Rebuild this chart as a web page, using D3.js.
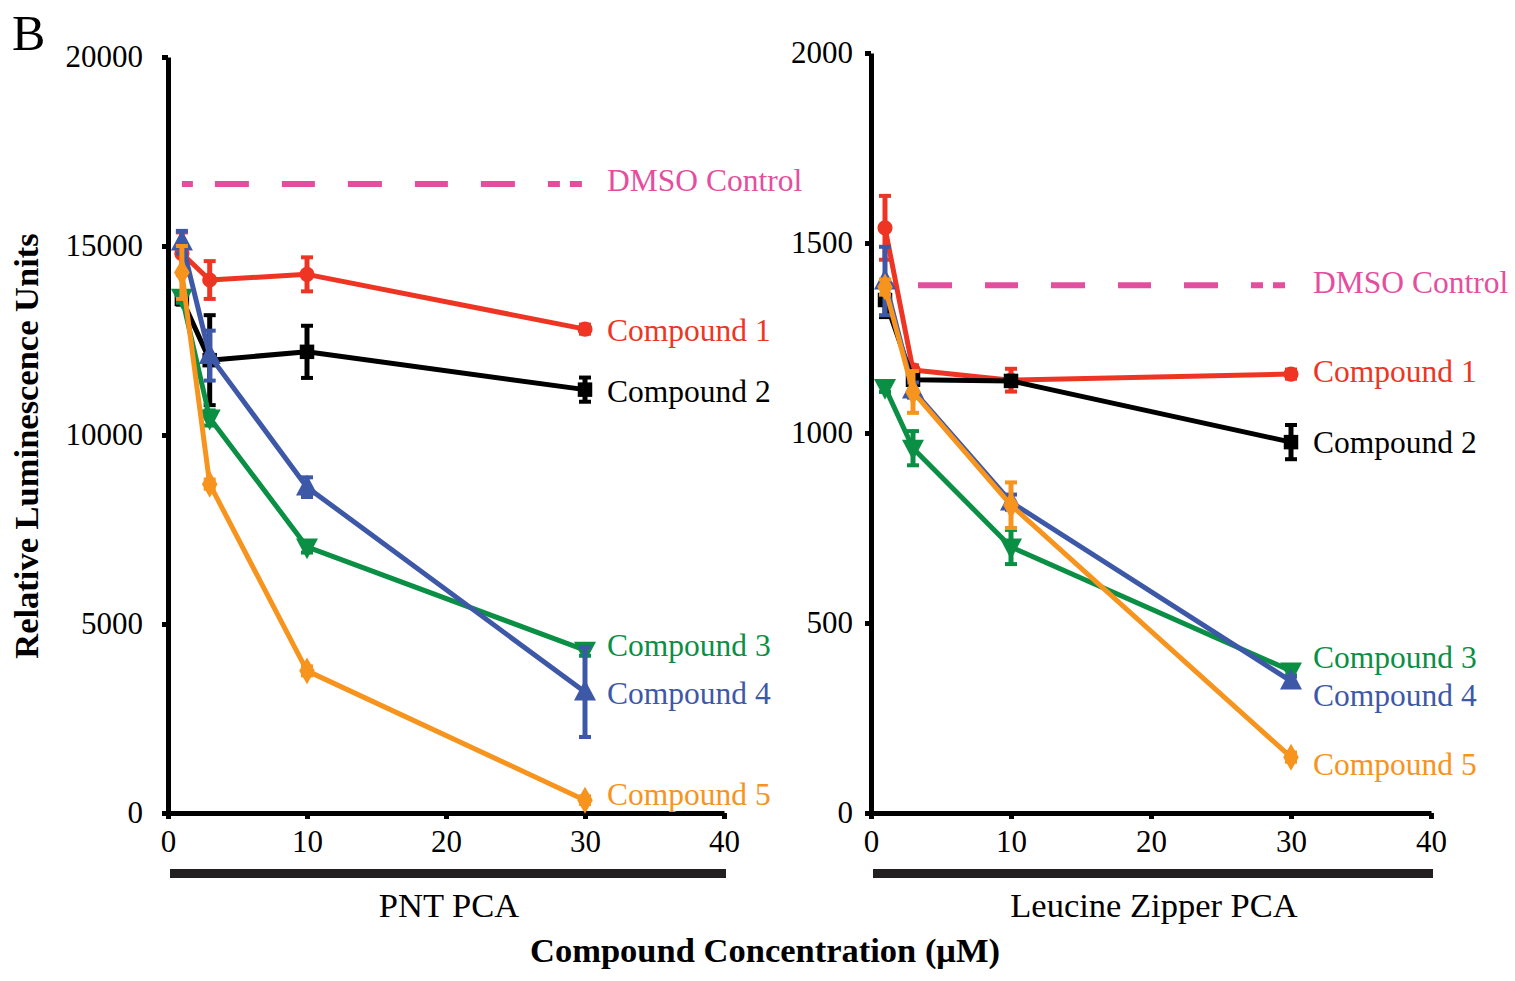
<!DOCTYPE html>
<html>
<head>
<meta charset="utf-8">
<script src="https://cdn.jsdelivr.net/npm/d3@7"></script>
<style>
  body { margin: 0; background: #fff; }
  svg text { font-family: "Liberation Serif", "Times New Roman", serif; }
</style>
</head>
<body>
<svg id="chart" width="1515" height="981"></svg>
<script>
// ---------------- DATA ----------------
const concentrations = [1, 3, 10, 30];
const seriesNames = ["Compound 1", "Compound 2", "Compound 3", "Compound 4", "Compound 5"];

// PNT PCA panel
const pntMeans = [
  [14800, 14100, 14250, 12800],
  [13600, 11980, 12200, 11200],
  [13650, 10450, 7040, 4310],
  [15100, 12100, 8620, 3200],
  [14300, 8700, 3760, 340]
];
const pntErrors = [
  [560, 500, 450, 120],
  [150, 1190, 690, 320],
  [150, 200, 150, 150],
  [300, 660, 260, 1190],
  [700, 120, 120, 100]
];
const pntDmso = 16640;

// Leucine Zipper PCA panel
const lzMeans = [
  [1540, 1166, 1139, 1155],
  [1350, 1140, 1137, 976],
  [1120, 960, 700, 374],
  [1400, 1113, 818, 347],
  [1384, 1108, 810, 147]
];
const lzErrors = [
  [84, 12, 30, 12],
  [45, 12, 12, 45],
  [12, 45, 45, 12],
  [90, 20, 20, 12],
  [20, 55, 60, 12]
];
const lzDmso = 1389;

const xTicks = [0, 10, 20, 30, 40];
const pntYTicks = [0, 5000, 10000, 15000, 20000];
const lzYTicks = [0, 500, 1000, 1500, 2000];
const panelTitles = ["PNT PCA", "Leucine Zipper PCA"];

// ---------------- STYLE ----------------
const colors = ["#EE3524", "#000000", "#0A8F45", "#3E58A8", "#F7941D"];
const symbols = [d3.symbolCircle, d3.symbolSquare, "down", "up", d3.symbolDiamond];
const dmsoColor = "#E54E9E";

const svg = d3.select("#chart");

function markerPath(type, size) {
  const h = size;
  if (type === "up") return `M0,${-h * 0.62}L${h * 0.55},${h * 0.42}L${-h * 0.55},${h * 0.42}Z`;
  if (type === "down") return `M0,${h * 0.62}L${h * 0.55},${-h * 0.42}L${-h * 0.55},${-h * 0.42}Z`;
  return null;
}

function drawPanel(cfg) {
  const x = d3.scaleLinear().domain([0, 40]).range([cfg.left, cfg.right]);
  const y = d3.scaleLinear().domain([0, cfg.yMax]).range([813, cfg.top]);
  const g = svg.append("g");

  // axes
  const yAxis = d3.axisLeft(y).tickValues(cfg.yTicks).tickFormat(d3.format("d"))
    .tickSize(6).tickSizeOuter(0).tickPadding(cfg.yPad);
  const ya = g.append("g").attr("transform", `translate(${cfg.left},0)`).call(yAxis);
  const xAxis = d3.axisBottom(x).tickValues(xTicks).tickFormat(d3.format("d"))
    .tickSize(6).tickSizeOuter(0).tickPadding(11);
  const xa = g.append("g").attr("transform", `translate(0,813)`).call(xAxis);
  [ya, xa].forEach(a => {
    a.select(".domain").attr("stroke", "#000").attr("stroke-width", 5);
    a.selectAll(".tick line").attr("stroke", "#000").attr("stroke-width", 5);
    a.selectAll(".tick text").attr("fill", "#000").style("font-size", "31px")
      .style("font-family", "'Liberation Serif', serif");
  });

  // DMSO control line
  g.append("line")
    .attr("x1", x(1)).attr("x2", x(30))
    .attr("y1", y(cfg.dmso)).attr("y2", y(cfg.dmso))
    .attr("stroke", dmsoColor).attr("stroke-width", 6)
    .attr("stroke-dasharray", "11,22,34,33,33,33,34,33,33,33,34,33,12,10,12,40");
  g.append("text")
    .attr("x", x(30) + 22).attr("y", y(cfg.dmso) + cfg.dmsoDy)
    .attr("dominant-baseline", "central")
    .attr("fill", dmsoColor).style("font-size", "31.5px")
    .text("DMSO Control");

  // series
  cfg.means.forEach((vals, i) => {
    const col = colors[i];
    const pts = concentrations.map((c, j) => ({ c, v: vals[j], e: cfg.errors[i][j] }));
    const sg = g.append("g");
    sg.append("path")
      .datum(pts)
      .attr("fill", "none").attr("stroke", col).attr("stroke-width", 5)
      .attr("stroke-linejoin", "round")
      .attr("d", d3.line().x(d => x(d.c)).y(d => y(d.v)));
    // error bars
    pts.forEach(d => {
      sg.append("line").attr("x1", x(d.c)).attr("x2", x(d.c))
        .attr("y1", y(d.v - d.e)).attr("y2", y(d.v + d.e))
        .attr("stroke", col).attr("stroke-width", 5);
      [d.v - d.e, d.v + d.e].forEach(v => {
        sg.append("line").attr("x1", x(d.c) - 6).attr("x2", x(d.c) + 6)
          .attr("y1", y(v)).attr("y2", y(v))
          .attr("stroke", col).attr("stroke-width", 4);
      });
    });
    // markers
    pts.forEach(d => {
      const s = symbols[i];
      const p = (typeof s === "string") ? markerPath(s, 20) : d3.symbol().type(s).size(i === 0 ? 180 : 210)();
      sg.append("path").attr("d", p)
        .attr("transform", `translate(${x(d.c)},${y(d.v)})`)
        .attr("fill", col);
    });
    // label
    const last = pts[pts.length - 1];
    g.append("text")
      .attr("x", x(30) + 22).attr("y", y(last.v) + cfg.labelDy[i])
      .attr("dominant-baseline", "central")
      .attr("fill", col).style("font-size", "31.5px")
      .text(seriesNames[i]);
  });

  // bracket bar
  g.append("rect")
    .attr("x", x(0) + 2).attr("width", x(40) - x(0))
    .attr("y", 869).attr("height", 9).attr("fill", "#231F20");
  g.append("text")
    .attr("x", (x(0) + x(40)) / 2 + 3).attr("y", 917)
    .attr("text-anchor", "middle").attr("fill", "#000")
    .style("font-size", "34.5px").text(cfg.title);
}

drawPanel({
  left: 168, right: 724, top: 57, yMax: 20000, yTicks: pntYTicks, yPad: 19,
  means: pntMeans, errors: pntErrors, dmso: pntDmso, dmsoDy: -4,
  labelDy: [1, 2, -5, 1, -6], title: panelTitles[0]
});
drawPanel({
  left: 871, right: 1431, top: 53, yMax: 2000, yTicks: lzYTicks, yPad: 12,
  means: lzMeans, errors: lzErrors, dmso: lzDmso, dmsoDy: -3,
  labelDy: [-3, 0, -13, 14, 7], title: panelTitles[1]
});

// Titles
svg.append("text").attr("x", 12).attr("y", 50)
  .style("font-size", "50px").attr("fill", "#000").text("B");
svg.append("text")
  .attr("transform", "translate(38,446) rotate(-90)")
  .attr("text-anchor", "middle").attr("fill", "#000")
  .style("font-size", "34.5px").style("font-weight", "bold")
  .text("Relative Luminescence Units");
svg.append("text")
  .attr("x", 765).attr("y", 962)
  .attr("text-anchor", "middle").attr("fill", "#000")
  .style("font-size", "34.5px").style("font-weight", "bold")
  .text("Compound Concentration (μM)");
</script>
</body>
</html>
